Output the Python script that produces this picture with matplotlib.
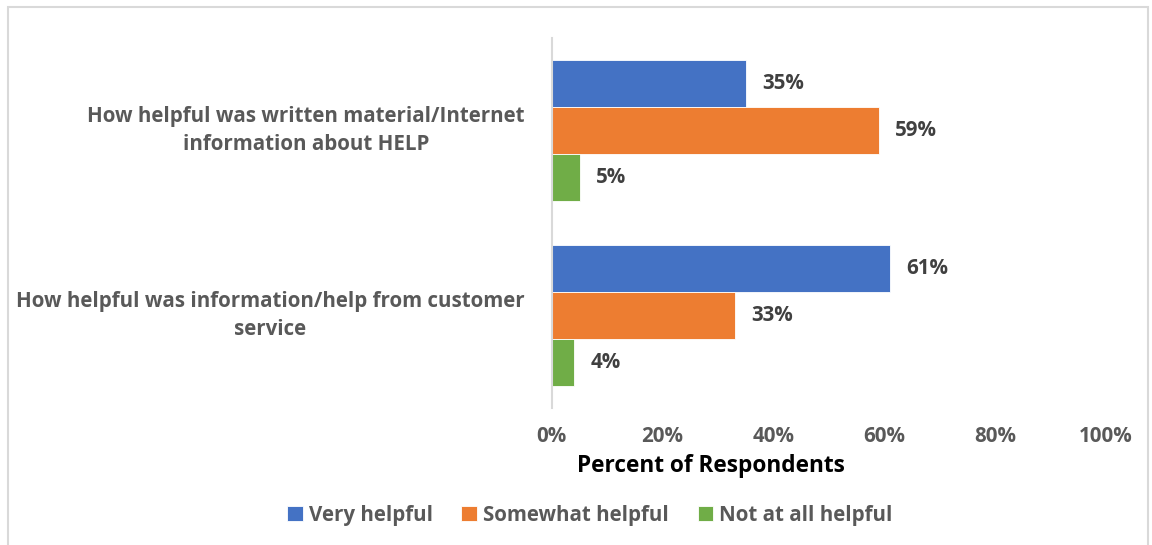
import matplotlib
matplotlib.use("Agg")
import matplotlib.pyplot as plt
import numpy as np
from matplotlib.patches import Rectangle

plt.rcParams["font.family"] = ["Open Sans", "DejaVu Sans"]
plt.rcParams["font.weight"] = "bold"

questions = [
    "How helpful was written material/Internet\ninformation about HELP",
    "How helpful was information/help from customer\nservice",
]
series = ["Very helpful", "Somewhat helpful", "Not at all helpful"]
very = [35, 61]
somewhat = [59, 33]
not_at_all = [5, 4]
colors = ["#4472C4", "#ED7D31", "#70AD47"]
xticks = [0, 20, 40, 60, 80, 100]

values = [very, somewhat, not_at_all]
FS = 14.8

fig = plt.figure(figsize=(11.52, 5.45), dpi=100)
ax = fig.add_axes([0.479, 0.2514, 0.481, 0.679])

h = 0.254
y = np.arange(len(questions))
for k, (name, vals, col) in enumerate(zip(series, values, colors)):
    pos = y + (k - 1) * h
    bars = ax.barh(pos, vals, height=h, color=col, label=name,
                   edgecolor="white", linewidth=0.6)
    for b, v in zip(bars, vals):
        ax.annotate(f"{v}%", (b.get_width(), b.get_y() + b.get_height() / 2),
                    xytext=(12, 0), textcoords="offset points",
                    va="center", ha="left", fontsize=FS,
                    fontweight="bold", color="#404040")

ax.set_ylim(len(questions) - 0.5, -0.5)
ax.set_xlim(0, 100)
ax.set_xticks(xticks)
ax.set_xticklabels([f"{t}%" for t in xticks], fontsize=FS,
                   fontweight="bold", color="#595959")
ax.set_yticks(y)
ax.set_yticklabels([])
# question labels drawn as text so the two-line blocks sit centred on the group
for yi, q in zip(y, questions):
    ax.text(-0.049, yi, q, transform=ax.get_yaxis_transform(),
            ha="right", va="center", multialignment="center",
            linespacing=1.45, fontsize=FS, fontweight="bold",
            color="#595959")
ax.tick_params(axis="both", length=0)
ax.tick_params(axis="x", pad=13)

for s in ["top", "right", "bottom"]:
    ax.spines[s].set_visible(False)
ax.spines["left"].set_color("#d9d9d9")
ax.spines["left"].set_linewidth(1.5)

ax.set_xlabel("Percent of Respondents", fontsize=16.3, fontweight="bold",
              color="black")
ax.xaxis.set_label_coords((711 - 552) / 554, -0.125)

fig.legend(loc="center", bbox_to_anchor=(0.512, 0.055), ncol=3,
           frameon=False, handlelength=0.75, handleheight=0.75,
           handletextpad=0.3, columnspacing=1.4,
           prop={"size": FS, "weight": "bold"}, labelcolor="#595959")

fig.add_artist(Rectangle((8 / 1152, -0.05), 1140 / 1152, 1.05 - 7 / 545,
                         transform=fig.transFigure, fill=False,
                         edgecolor="#d9d9d9", linewidth=1.5))

fig.savefig("out.png", dpi=100)
